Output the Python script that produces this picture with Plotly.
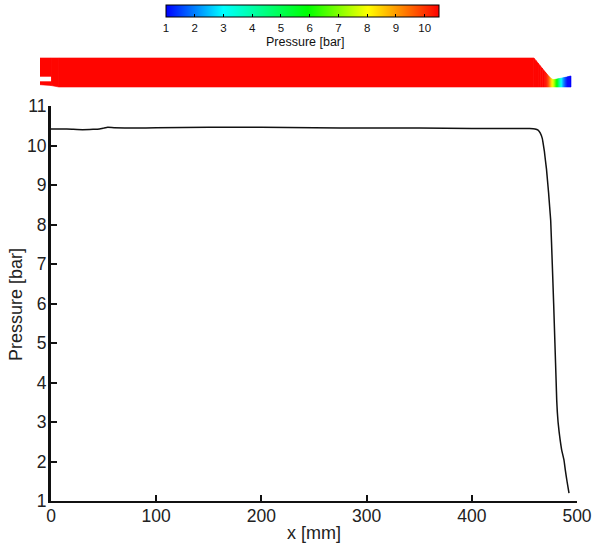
import plotly.graph_objects as go
from plotly.colors import sample_colorscale

# ---- profile data (mm, bar)
profile_x = [0, 10, 20, 30, 40, 46, 50, 54, 60, 80, 100, 150, 200, 250, 300, 350, 400, 440, 455, 460, 463, 465, 467, 468, 469, 470, 471, 472, 473, 474, 475, 476.5, 477.8, 479, 480.2, 480.7, 481.3, 482, 483, 484, 485.5, 487.6, 489, 490.5, 492.4]
profile_p = [10.42, 10.42, 10.41, 10.40, 10.41, 10.42, 10.44, 10.46, 10.45, 10.44, 10.45, 10.46, 10.46, 10.45, 10.44, 10.44, 10.43, 10.43, 10.43, 10.42, 10.39, 10.32, 10.18, 10.02, 9.85, 9.62, 9.40, 9.10, 8.80, 8.45, 8.10, 7.00, 6.00, 5.00, 4.00, 3.56, 3.25, 3.00, 2.75, 2.54, 2.28, 2.04, 1.76, 1.50, 1.20]

# ---- nozzle strip data (mm from the same origin, pressure in bar)
strip_x = [-10.5, 0, 7.5, 459, 461, 463, 465, 467, 469, 470, 471, 472, 473, 474, 475, 476, 477, 478, 479, 480, 481, 482, 483, 484, 485, 486, 487, 488, 489, 490, 491, 492, 493, 494.3]
strip_top = [27.6, 27.6, 27.6, 27.6, 25.2, 22.7, 20.2, 17.8, 15.3, 14.1, 12.9, 11.7, 10.5, 9.4, 8.4, 7.7, 7.2, 7.1, 7.2, 7.4, 7.6, 7.8, 8.0, 8.2, 8.4, 8.6, 8.8, 9.0, 9.2, 9.4, 9.7, 9.9, 10.2, 10.5]
strip_bottom = [2.2, 1.4, 0, 0, 0, 0, 0, 0, 0, 0, 0, 0, 0, 0, 0, 0, 0, 0, 0, 0, 0, 0, 0, 0, 0, 0, 0, 0, 0, 0, 0, 0, 0, 0]
strip_p = [10.45, 10.45, 10.45, 10.45, 10.45, 10.45, 10.45, 10.45, 10.45, 10.4, 10.3, 10.1, 9.8, 9.4, 8.9, 8.4, 8.0, 7.6, 7.1, 6.5, 5.9, 5.2, 4.5, 3.8, 3.2, 2.7, 2.3, 1.9, 1.6, 1.3, 1.1, 1.0, 1.0, 1.0]
notch_x = [-10.5, 0, 0, -10.5]
notch_y = [9.8, 9.8, 5.4, 5.4]

# ---- axes labels
x_ticks = [0, 100, 200, 300, 400, 500]
y_ticks = [1, 2, 3, 4, 5, 6, 7, 8, 9, 10, 11]
bar_ticks = [1, 2, 3, 4, 5, 6, 7, 8, 9, 10]

W, H = 594, 543
FONT = "Liberation Sans"
JET = [[0, "#0000ff"], [0.21, "#00ffff"], [0.52, "#00ff00"], [0.74, "#ffff00"], [1, "#ff0000"]]
CMIN, CMAX = 1, 10.5

fig = go.Figure()

# main curve
fig.add_trace(go.Scatter(x=profile_x, y=profile_p, mode="lines", showlegend=False,
                         line=dict(color="#111111", width=1.5, shape="spline", smoothing=0.3),
                         xaxis="x", yaxis="y", hoverinfo="skip"))

# strip cells
for i in range(len(strip_x) - 1):
    mid = (strip_p[i] + strip_p[i + 1]) / 2
    col = sample_colorscale(JET, (mid - CMIN) / (CMAX - CMIN))[0]
    fig.add_trace(go.Scatter(
        x=[strip_x[i], strip_x[i + 1], strip_x[i + 1], strip_x[i], strip_x[i]],
        y=[strip_top[i], strip_top[i + 1], strip_bottom[i + 1], strip_bottom[i], strip_top[i]],
        mode="lines", fill="toself", fillcolor=col, line=dict(color=col, width=0.6),
        showlegend=False, xaxis="x2", yaxis="y2", hoverinfo="skip"))

fig.add_trace(go.Scatter(x=notch_x, y=notch_y, mode="lines", fill="toself", fillcolor="white",
                         line=dict(color="white", width=0), showlegend=False,
                         xaxis="x2", yaxis="y2", hoverinfo="skip"))

# colorbar carrier
fig.add_trace(go.Scatter(
    x=strip_x, y=strip_top, mode="markers", showlegend=False, xaxis="x2", yaxis="y2", hoverinfo="skip",
    marker=dict(size=0.1, opacity=0, color=strip_p, cmin=CMIN, cmax=CMAX, colorscale=JET, showscale=True,
                colorbar=dict(orientation="h", x=302.5 / W, xanchor="center", y=1 - 5 / H, yanchor="top",
                              lenmode="pixels", len=273, thicknessmode="pixels", thickness=12,
                              xpad=0, ypad=0, outlinecolor="black", outlinewidth=1,
                              tickmode="array", tickvals=bar_ticks, ticktext=[str(t) for t in bar_ticks],
                              ticks="inside", ticklen=3, tickcolor="black", tickwidth=1,
                              tickfont=dict(family=FONT, size=11.5, color="#111111")))))

fig.update_layout(
    width=W, height=H, margin=dict(l=0, r=0, t=0, b=0, autoexpand=False), autosize=False,
    paper_bgcolor="white", plot_bgcolor="white", showlegend=False,
    xaxis=dict(domain=[51 / W, 577 / W], range=[0, 500], tickmode="array", tickvals=x_ticks,
               ticks="inside", ticklen=6, tickwidth=2, tickcolor="#111111", ticklabelstandoff=-2,
               showgrid=False, zeroline=False, showline=True, linecolor="#111111", linewidth=2,
               tickfont=dict(family=FONT, size=17.5, color="#222222"), automargin=False,
               title=dict(text="x [mm]", standoff=2, font=dict(family=FONT, size=18, color="#222222"))),
    yaxis=dict(domain=[1 - 501 / H, 1 - 106 / H], range=[1, 11], tickmode="array", tickvals=y_ticks,
               ticks="inside", ticklen=6, tickwidth=2, tickcolor="#111111", ticklabelstandoff=-2,
               showgrid=False, zeroline=False, showline=True, linecolor="#111111", linewidth=3,
               tickfont=dict(family=FONT, size=17.5, color="#222222"), automargin=False),
    xaxis2=dict(domain=[40 / W, 577 / W], range=[-10.5, 500], visible=False, anchor="y2"),
    yaxis2=dict(domain=[1 - 90 / H, 1 - 55 / H], range=[-2.85, 30.42], visible=False, anchor="x2"),
    annotations=[
        dict(text="Pressure [bar]", xref="paper", yref="paper", x=16 / W, y=1 - 305 / H, textangle=-90,
             showarrow=False, xanchor="center", yanchor="middle",
             font=dict(family=FONT, size=18, color="#222222")),
        dict(text="Pressure [bar]", xref="paper", yref="paper", x=305 / W, y=1 - 42 / H,
             showarrow=False, xanchor="center", yanchor="middle",
             font=dict(family=FONT, size=12.5, color="#111111")),
    ],
)
fig.write_html("out.html", config=dict(displayModeBar=False),
               post_script="document.body.style.margin='0';document.body.style.overflow='hidden';")
